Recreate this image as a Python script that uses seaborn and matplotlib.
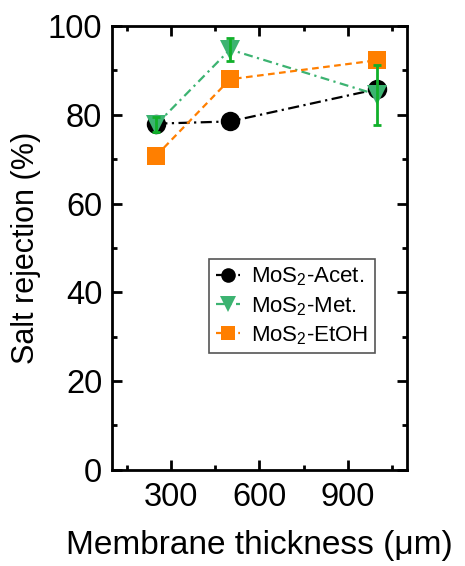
import numpy as np
import pandas as pd
import matplotlib
matplotlib.use('Agg')
import matplotlib.pyplot as plt
from matplotlib.ticker import MultipleLocator
import seaborn as sns

# membrane thickness (um) and salt rejection (%)
thickness = [250, 500, 1000]
acet = [78.0, 78.5, 85.8]
met = [77.8, 94.7, 84.5]
met_err = [1.7, 2.5, 6.8]
etoh = [70.8, 88.0, 92.3]
labels = ['MoS$_2$-Acet.', 'MoS$_2$-Met.', 'MoS$_2$-EtOH']
xticks = [300, 600, 900]
yticks = [0, 20, 40, 60, 80, 100]

sns.set_style('ticks', {'axes.edgecolor': 'black', 'text.color': 'black',
                        'xtick.color': 'black', 'ytick.color': 'black',
                        'axes.labelcolor': 'black'})
plt.rcParams['font.family'] = ['Liberation Sans', 'DejaVu Sans']
plt.rcParams['mathtext.fontset'] = 'custom'
plt.rcParams['mathtext.rm'] = 'Liberation Sans'

fig = plt.figure(figsize=(4.65, 5.66), dpi=100)
ax = fig.add_axes([0.241, 0.170, 0.634, 0.784])

df = pd.DataFrame({'x': thickness * 3,
                   'y': acet + met + etoh,
                   'sample': [labels[0]] * 3 + [labels[1]] * 3 + [labels[2]] * 3})

styles = [('black', 'o', (0, (5, 2, 1, 2)), 14),
          ('mediumseagreen', 'v', (0, (4, 2, 1, 2)), 15),
          ('#ff7f00', 's', (0, (3, 2)), 13)]

for lab, (c, m, ls, ms) in zip(labels, styles):
    sub = df[df['sample'] == lab]
    sns.lineplot(data=sub, x='x', y='y', ax=ax, color=c, marker=m,
                 markersize=ms, markeredgewidth=0, linewidth=1.6,
                 label=lab, errorbar=None)
    ax.lines[-1].set_linestyle(ls)

ax.errorbar(thickness, met, yerr=met_err, fmt='none', ecolor='#11b02a',
            elinewidth=2, capsize=3, capthick=2, zorder=5)

ax.set_xlim(100, 1100)
ax.set_ylim(0, 100)
ax.set_xticks(xticks)
ax.set_yticks(yticks)
ax.set_xticks([150, 450, 750, 1050], minor=True)
ax.yaxis.set_minor_locator(MultipleLocator(10))
ax.tick_params(which='both', direction='in', top=True, right=True, width=2,
               labelsize=23.5)
ax.tick_params(axis='x', pad=9)
ax.tick_params(axis='y', pad=7)
ax.tick_params(which='major', length=7)
ax.tick_params(which='minor', length=3.5)
for s in ax.spines.values():
    s.set_linewidth(2)

ax.set_xlabel('Membrane thickness (\u03bcm)', fontsize=24, labelpad=12)
ax.set_ylabel('Salt rejection (%)', fontsize=22, labelpad=5)

leg = ax.legend(loc='upper left', bbox_to_anchor=(0.329, 0.475), fontsize=16,
                handlelength=1.1, handletextpad=0.5, borderpad=0.3,
                labelspacing=0.3, fancybox=False, framealpha=1,
                borderaxespad=0, markerscale=0.75)
leg.get_frame().set_edgecolor('#555555')
leg.get_frame().set_linewidth(1.2)

fig.savefig('out.png', dpi=100)
